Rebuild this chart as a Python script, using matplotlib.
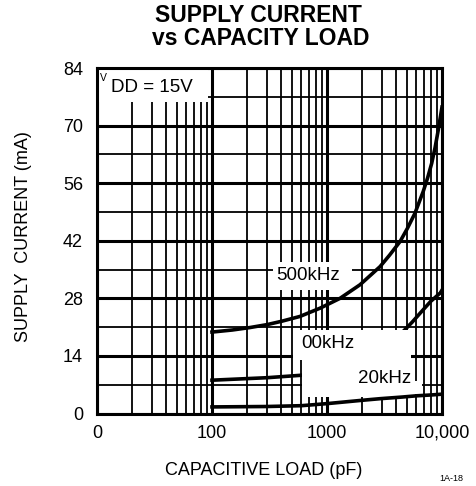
import numpy as np
import matplotlib
matplotlib.use("Agg")
import matplotlib.pyplot as plt
from matplotlib.ticker import LogLocator, MultipleLocator, NullFormatter
from matplotlib.patches import Rectangle

plt.rcParams['font.family'] = ['Liberation Sans', 'DejaVu Sans']

# Curves (pF, mA)
load_500k = [100, 150, 214, 300, 400, 582, 869, 1298, 1936, 2890, 3500, 4315,
             5000, 5820, 6870, 7500, 8130, 8700, 9290, 10000]
curr_500k = [19.8, 20.3, 20.9, 21.6, 22.4, 23.6, 25.6, 28.0, 31.3, 35.7, 38.5, 41.8,
             45.0, 48.7, 54.0, 57.3, 60.8, 64.6, 69.0, 74.5]

load_200k = [100, 300, 600, 1000, 2000, 3000, 4580, 5500, 6650, 8000, 9650, 10000]
curr_200k = [8.1, 8.7, 9.3, 10.5, 13.5, 16.0, 19.9, 22.2, 24.8, 27.3, 29.3, 30.0]

load_20k = [100, 300, 600, 1000, 2000, 2890, 4500, 6000, 8000, 10000]
curr_20k = [1.6, 1.7, 1.9, 2.4, 3.2, 3.6, 4.0, 4.3, 4.5, 4.7]

xticks = [10, 100, 1000, 10000]
xlabels = ["0", "100", "1000", "10,000"]
yticks = [0, 14, 28, 42, 56, 70, 84]

fig = plt.figure(figsize=(4.76, 4.86), dpi=100)
ax = fig.add_axes([97/476, 1 - 413.5/486, 345/476, 345.5/486])

ax.set_xscale('log')
ax.set_xlim(10, 10000)
ax.set_ylim(0, 84)

ax.set_xticks(xticks)
ax.set_xticklabels(xlabels)
ax.set_yticks(yticks)
ax.xaxis.set_minor_locator(LogLocator(base=10, subs=range(2, 10)))
ax.xaxis.set_minor_formatter(NullFormatter())
ax.yaxis.set_minor_locator(MultipleLocator(7))
ax.tick_params(which='both', length=0, labelsize=13)
ax.tick_params(axis='x', pad=8)
ax.tick_params(axis='y', pad=10)

ax.grid(True, which='major', color='black', lw=2.2)
ax.grid(True, which='minor', color='black', lw=1.3)

# curves
ax.plot(load_200k, curr_200k, color='black', lw=2.6, zorder=2)
ax.plot(load_500k, curr_500k, color='black', lw=2.6, zorder=4)
ax.plot(load_20k, curr_20k, color='black', lw=2.6, zorder=4)

# white label areas that cover the grid
def white_box(x0, x1, y0, y1):
    ax.add_patch(Rectangle((x0, y0), x1 - x0, y1 - y0, facecolor='white',
                           edgecolor='none', zorder=3))

white_box(10, 92, 75.8, 84)
white_box(339, 1649, 30.1, 36.9)
white_box(506, 5400, 13.0, 20.3)
white_box(606, 5400, 4.0, 13.0)
white_box(5400, 6700, 4.8, 8.0)

ax.text(684, 33.6, "500kHz", fontsize=13.5, ha='center', va='center', zorder=5)
ax.text(1020, 16.9, "00kHz", fontsize=13.5, ha='center', va='center', zorder=5)
ax.text(3190, 8.6, "20kHz", fontsize=13.5, ha='center', va='center', zorder=5)
ax.text(10.55, 81.6, "V", fontsize=7.5, ha='left', va='center', zorder=5)
ax.text(13.2, 79.3, "DD = 15V", fontsize=13.5, ha='left', va='center', zorder=5)

for s in ax.spines.values():
    s.set_linewidth(2.2)
    s.set_zorder(6)

fig.text(258/476, 1 - 22/486, "SUPPLY CURRENT", fontsize=16.5, fontweight='bold',
         ha='center', va='baseline')
fig.text(261/476, 1 - 45/486, "vs CAPACITY LOAD", fontsize=16.5, fontweight='bold',
         ha='center', va='baseline')
fig.text(24/476, 1 - 236.5/486, "SUPPLY  CURRENT (mA)", fontsize=13, rotation=90,
         ha='center', va='center')
fig.text(264/476, 1 - 470/486, "CAPACITIVE LOAD (pF)", fontsize=13,
         ha='center', va='center')
fig.text(451/476, 1 - 478/486, "1A-18", fontsize=6.5, ha='center', va='center')

fig.savefig("out.png", dpi=100)
